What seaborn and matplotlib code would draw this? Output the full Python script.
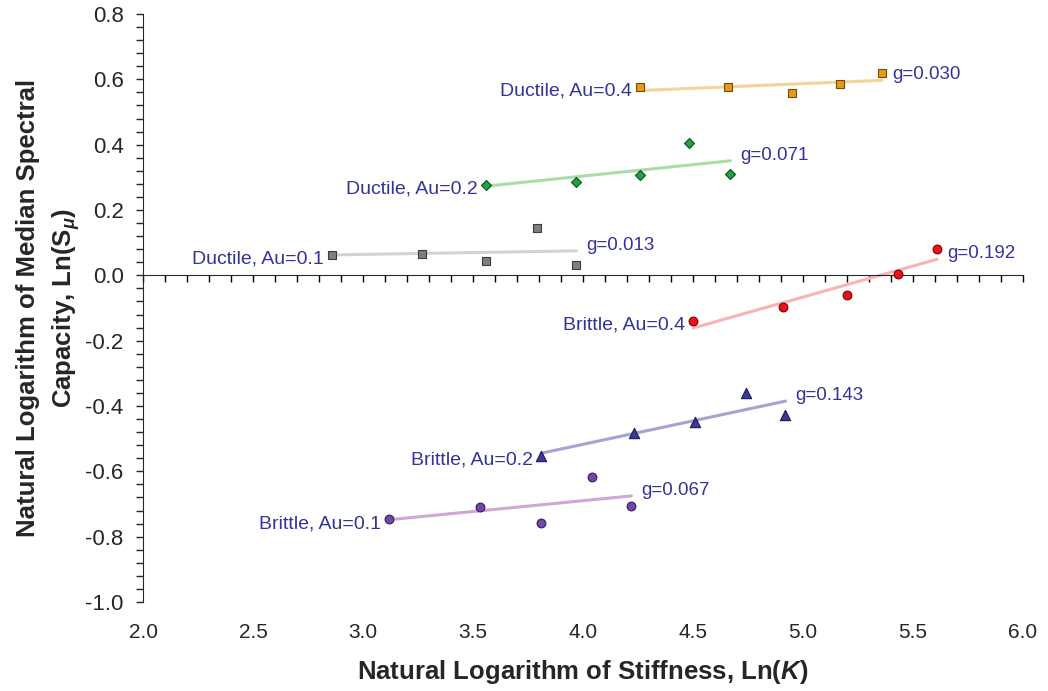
import numpy as np
import pandas as pd
import matplotlib
matplotlib.use("Agg")
import matplotlib.pyplot as plt
from matplotlib.ticker import MultipleLocator
import seaborn as sns

# ─── DATA ─────────────────────────────────────────────────
series_names = ["Ductile, Au=0.4", "Ductile, Au=0.2", "Ductile, Au=0.1",
                "Brittle, Au=0.4", "Brittle, Au=0.2", "Brittle, Au=0.1"]
g_labels = ["g=0.030", "g=0.071", "g=0.013", "g=0.192", "g=0.143", "g=0.067"]

ln_k = {
    "Ductile, Au=0.4": [4.26, 4.66, 4.95, 5.17, 5.36],
    "Ductile, Au=0.2": [3.56, 3.97, 4.26, 4.48, 4.67],
    "Ductile, Au=0.1": [2.86, 3.27, 3.56, 3.79, 3.97],
    "Brittle, Au=0.4": [4.50, 4.91, 5.20, 5.43, 5.61],
    "Brittle, Au=0.2": [3.81, 4.23, 4.51, 4.74, 4.92],
    "Brittle, Au=0.1": [3.12, 3.53, 3.81, 4.04, 4.22],
}
ln_s = {
    "Ductile, Au=0.4": [0.577, 0.577, 0.558, 0.586, 0.619],
    "Ductile, Au=0.2": [0.277, 0.286, 0.307, 0.405, 0.310],
    "Ductile, Au=0.1": [0.062, 0.065, 0.044, 0.145, 0.032],
    "Brittle, Au=0.4": [-0.140, -0.097, -0.059, 0.005, 0.082],
    "Brittle, Au=0.2": [-0.553, -0.482, -0.448, -0.359, -0.427],
    "Brittle, Au=0.1": [-0.747, -0.709, -0.757, -0.616, -0.705],
}

# ─── STYLE ────────────────────────────────────────────────
marker_color = ["#E39A1E", "#23A040", "#7F7F7F", "#E8141A", "#3A3A96", "#7646A6"]
edge_color = ["#7a4a00", "#0b5020", "#3c3c3c", "#7a0000", "#1a1a5a", "#3a1a60"]
line_color = ["#F3D49A", "#ACDCA6", "#D2D2D2", "#F8B4B4", "#A8A2D0", "#CFA6D6"]
markers = ["s", "D", "s", "o", "^", "o"]
msizes = [40, 26, 40, 40, 55, 40]
text_color = "#333399"

sns.set_style("ticks")
plt.rcParams["font.family"] = ["Liberation Sans", "DejaVu Sans"]
plt.rcParams["mathtext.fontset"] = "custom"
plt.rcParams["mathtext.bf"] = "Liberation Sans:bold"
plt.rcParams["mathtext.it"] = "Liberation Sans:bold:italic"
plt.rcParams["mathtext.rm"] = "Liberation Sans:bold"

rows = []
for name in series_names:
    for x, y in zip(ln_k[name], ln_s[name]):
        rows.append({"series": name, "lnK": x, "lnS": y})
df = pd.DataFrame(rows)

fig = plt.figure(figsize=(10.48, 6.91), dpi=100)
ax = fig.add_axes([143 / 1048, 1 - 602 / 691, (1023 - 143) / 1048, (602 - 14) / 691])

for i, name in enumerate(series_names):
    sub = df[df["series"] == name]
    sns.regplot(data=sub, x="lnK", y="lnS", ax=ax, scatter=False, ci=None,
                truncate=True, line_kws={"color": line_color[i], "lw": 2.2, "zorder": 2})
    sns.scatterplot(data=sub, x="lnK", y="lnS", ax=ax, marker=markers[i], s=msizes[i],
                    color=marker_color[i], edgecolor=edge_color[i], linewidth=0.8,
                    zorder=3, legend=False)
    # series label left of first point, g value right of trend end
    x0, y0 = sub["lnK"].iloc[0], sub["lnS"].iloc[0]
    ax.annotate(name, (x0, y0), xytext=(-6, -3), textcoords="offset points",
                ha="right", va="center", fontsize=14, color=text_color)
    slope, icpt = np.polyfit(sub["lnK"], sub["lnS"], 1)
    x1 = sub["lnK"].max()
    ax.annotate(g_labels[i], (x1, slope * x1 + icpt), xytext=(7, 4),
                textcoords="offset points", ha="left", va="center",
                fontsize=13.5, color=text_color)

ax.set_xlim(2.0, 6.0)
ax.set_ylim(-1.0, 0.8)

# x axis line crosses at y = 0, labels sit at the bottom
ax.spines["bottom"].set_position(("data", 0))
ax.spines["top"].set_visible(False)
ax.spines["right"].set_visible(False)
ax.xaxis.set_major_locator(MultipleLocator(0.5))
ax.xaxis.set_minor_locator(MultipleLocator(0.1))
ax.tick_params(axis="x", which="both", labelbottom=False, direction="out",
               length=5, width=1, color="black")
ax.yaxis.set_major_locator(MultipleLocator(0.2))
ax.yaxis.set_minor_locator(MultipleLocator(0.04))
ax.yaxis.set_major_formatter(plt.FormatStrFormatter("%.1f"))
ax.tick_params(axis="y", which="both", direction="out", length=5, width=1,
               labelsize=16, pad=9)
ax.set_xlabel("")
ax.set_ylabel("Natural Logarithm of Median Spectral\nCapacity, Ln($\\mathbf{S}_{\\mu}$)",
              fontsize=18.5, fontweight="bold", labelpad=2, linespacing=1.5)

sec = ax.secondary_xaxis("bottom")
sec.spines["bottom"].set_visible(False)
sec.xaxis.set_major_locator(MultipleLocator(0.5))
sec.xaxis.set_major_formatter(plt.FormatStrFormatter("%.1f"))
sec.tick_params(axis="x", length=0, pad=15, labelsize=15)
sec.set_xlabel("Natural Logarithm of Stiffness, Ln($\\mathit{K}$)", fontsize=18.5,
               fontweight="bold", labelpad=12)

plt.savefig("out.png", dpi=100)
plt.close()
